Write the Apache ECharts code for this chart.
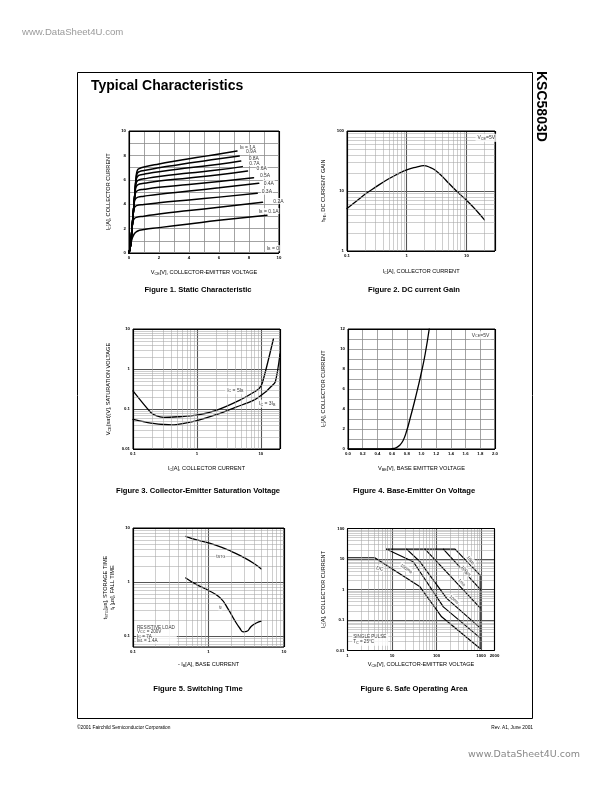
<!DOCTYPE html>
<html><head><meta charset="utf-8">
<script src="https://cdn.jsdelivr.net/npm/echarts@6/dist/echarts.min.js"></script>
<style>html,body{margin:0;padding:0;background:#fff;}#c{width:612px;height:792px;}</style>
</head><body><div id="c"></div>
<script>
// ---------------- DATA ----------------
// Figure 1: Static characteristic, [Vce(V), Ic(A)]
const f1Names = ['I{s|B} = 1A','0.9A','0.8A','0.7A','0.6A','0.5A','0.4A','0.3A','0.2A','I{s|B} = 0.1A'];
const f1_ib_1_0 = [[0,0],[0.1,0.6],[0.2,2.0],[0.3,3.5],[0.4,5.0],[0.48,6.3],[0.56,6.78],[0.7,6.93],[1,7.05],[2,7.3],[3,7.52],[4,7.72],[5,7.92],[6,8.12],[7.2,8.36]];
const f1_ib_0_9 = [[0,0],[0.1,0.6],[0.2,2.0],[0.3,3.5],[0.4,5.0],[0.47,6.1],[0.55,6.52],[0.7,6.67],[1,6.76],[2,6.98],[3,7.18],[4,7.37],[5,7.55],[6,7.72],[7.35,7.95]];
const f1_ib_0_8 = [[0,0],[0.1,0.6],[0.2,2.0],[0.3,3.5],[0.4,5.0],[0.46,5.9],[0.55,6.25],[0.7,6.38],[1,6.46],[2,6.66],[4,6.98],[6,7.28],[7.45,7.54]];
const f1_ib_0_7 = [[0,0],[0.1,0.6],[0.2,2.0],[0.3,3.5],[0.4,5.0],[0.45,5.62],[0.55,5.9],[0.7,6.0],[1,6.08],[2,6.27],[4,6.55],[6,6.82],[7.55,7.08]];
const f1_ib_0_6 = [[0,0],[0.1,0.6],[0.2,2.0],[0.3,3.5],[0.38,4.75],[0.45,5.33],[0.55,5.55],[0.7,5.65],[1,5.72],[2,5.9],[4,6.15],[6,6.42],[7.9,6.72]];
const f1_ib_0_5 = [[0,0],[0.1,0.6],[0.2,2.0],[0.3,3.5],[0.37,4.5],[0.45,4.97],[0.6,5.13],[1,5.22],[2,5.38],[4,5.62],[6,5.87],[8.3,6.17]];
const f1_ib_0_4 = [[0,0],[0.1,0.6],[0.2,2.0],[0.3,3.5],[0.35,4.1],[0.42,4.42],[0.6,4.58],[1,4.66],[2,4.82],[4,5.08],[6,5.35],[8.65,5.72]];
const f1_ib_0_3 = [[0,0],[0.1,0.6],[0.2,2.0],[0.27,3.1],[0.35,3.68],[0.5,3.88],[1,3.98],[2,4.12],[4,4.35],[6,4.58],[8.55,4.9]];
const f1_ib_0_2 = [[0,0],[0.1,0.6],[0.18,1.7],[0.25,2.45],[0.33,2.78],[0.5,2.92],[1,3.02],[2,3.2],[4,3.48],[6,3.75],[8.9,4.15]];
const f1_ib_0_1 = [[0,0],[0.1,0.6],[0.2,1.15],[0.3,1.45],[0.45,1.7],[0.7,1.86],[1,1.93],[2,2.08],[4,2.38],[6,2.68],[9.2,3.1]];
const f1Curves = [f1_ib_1_0,f1_ib_0_9,f1_ib_0_8,f1_ib_0_7,f1_ib_0_6,f1_ib_0_5,f1_ib_0_4,f1_ib_0_3,f1_ib_0_2,f1_ib_0_1];
const f1XLabels = [0,2,4,6,8,10];
const f1YLabels = [0,2,4,6,8,10];

// Figure 2: DC current gain
const f2Ic  = [0.1,0.15,0.2,0.3,0.5,0.7,1,1.5,1.9,2.5,3,4,5,7,10,15,20];
const f2Hfe = [5.1,7.0,8.8,11.6,16.0,19.1,22.5,25.2,26.4,24.6,22.2,17.2,13.6,9.7,7.0,4.6,3.3];
const f2XLabels = [0.1,1,10];
const f2YLabels = [1,10,100];
const f2MinorX = [0.2,0.3,0.4,0.5,0.6,0.7,0.8,0.9,2,3,4,5,6,7,8,9,20];
const f2MinorY = [2,3,4,5,6,7,8,9,20,30,40,50,60,70,80,90];

// Figure 3: Vce(sat)
const f3Ic5  = [0.1,0.19,0.23,0.3,0.5,1,2,4.7,8,9.5,10.6,15.8];
const f3Vce5 = [0.284,0.082,0.068,0.062,0.064,0.07,0.092,0.166,0.27,0.33,0.45,5.7];
const f3Ic3  = [0.1,0.15,0.22,0.3,0.41,0.6,1,2,4,7.8,12,14.4,16.9,20];
const f3Vce3 = [0.055,0.048,0.043,0.041,0.040,0.043,0.051,0.072,0.11,0.166,0.27,0.36,0.48,2.4];
const f3XLabels = [0.1,1,10];
const f3YLabels = [0.01,0.1,1,10];
const f3MinorX = [0.2,0.3,0.4,0.5,0.6,0.7,0.8,0.9,2,3,4,5,6,7,8,9];
const f3MinorY = [0.02,0.03,0.04,0.05,0.06,0.07,0.08,0.09,0.2,0.3,0.4,0.5,0.6,0.7,0.8,0.9,2,3,4,5,6,7,8,9];

// Figure 4: Base-emitter on voltage
const f4Vbe = [0,0.5,0.55,0.6,0.65,0.7,0.75,0.8,0.85,0.9,0.95,1.0,1.05,1.105];
const f4Ic  = [0,0,0.01,0.04,0.12,0.35,0.85,1.85,3.2,4.6,6.1,7.7,9.5,12];
const f4YLabels = [0,2,4,6,8,10,12];

// Figure 5: Switching time
const f5IbS  = [0.5,0.7,1,1.5,2,3,4,5];
const f5Tstg = [7.0,6.0,5.3,4.4,3.7,2.8,2.2,1.75];
const f5IbF  = [0.5,0.67,1,1.43,1.84,2.2,2.6,2.9,3.2,3.7,4.3,5];
const f5Tf   = [1.19,0.925,0.70,0.51,0.31,0.2,0.14,0.12,0.122,0.153,0.175,0.19];
const f5XLabels = [0.1,1,10];
const f5YLabels = [0.1,1,10];
const f5MinorX = [0.2,0.3,0.4,0.5,0.6,0.7,0.8,0.9,2,3,4,5,6,7,8,9];
const f5MinorY = [0.07,0.08,0.09,0.2,0.3,0.4,0.5,0.6,0.7,0.8,0.9,2,3,4,5,6,7,8,9];

// Figure 6: Safe operating area [Vce, Ic]
const f6DC    = [[1,11],[4.1,11],[42.5,1.22],[130,0.127],[950,0.0116]];
const f6_100ms = [[7.55,21],[30,8.1],[142,0.27],[950,0.026]];
const f6_10ms  = [[21.3,21],[42.5,8.1],[169,0.51],[950,0.055]];
const f6_1ms   = [[55,21],[120,6.3],[950,0.25]];
const f6_100us = [[142,21],[950,1.03]];
const f6_10us  = [[7.55,21],[260,21],[950,2.95],[950,0.0116]];
const f6XLabels = [1,10,100,1000,2000];
const f6YLabels = [0.01,0.1,1,10,100];
const f6MinorX = [2,3,4,5,6,7,8,9,20,30,40,50,60,70,80,90,200,300,400,500,600,700,800,900];
const f6MinorY = [0.02,0.03,0.04,0.05,0.06,0.07,0.08,0.09,0.2,0.3,0.4,0.5,0.6,0.7,0.8,0.9,2,3,4,5,6,7,8,9,20,30,40,50,60,70,80,90];

// ---------------- CHART ----------------
const FONT = '"Liberation Sans", Arial, sans-serif';
const SUB = { s: { fontSize: 3.7, verticalAlign: 'bottom', padding: [1.6, 0, 0, 0] } };
const zip = (a, b) => a.map((v, i) => [v, b[i]]);
const logFmt = list => v => { for (const l of list) { if (Math.abs(Math.log10(l) - Math.log10(v)) < 0.004) return String(l); } return ''; };
const linFmt = (list, dec) => v => { for (const l of list) { if (Math.abs(l - v) < 1e-6) return dec ? l.toFixed(dec) : String(l); } return ''; };

const grids = [
  { left: 129, top: 131, width: 150, height: 122 },
  { left: 347, top: 131, width: 148, height: 120 },
  { left: 133, top: 329, width: 147, height: 120 },
  { left: 348, top: 329, width: 147, height: 120 },
  { left: 133, top: 528, width: 151, height: 119 },
  { left: 347.5, top: 528.5, width: 147, height: 122 }
].map(g => Object.assign({ show: true, borderColor: '#000', borderWidth: 1, backgroundColor: '#fff' }, g));

function axis(idx, type, min, max, fmt, name, gap, extra) {
  const major = type === 'log' ? { color: '#555', width: 1.1 } : { color: '#8c8c8c', width: 0.8 };
  return Object.assign({
    gridIndex: idx, type, min, max,
    axisLine: { show: false }, axisTick: { show: false },
    splitLine: { show: true, lineStyle: major },
    axisLabel: { fontSize: 4.3, color: '#000', fontFamily: FONT, fontWeight: 'bold', margin: 3, formatter: fmt, showMinLabel: true, showMaxLabel: true, hideOverlap: false },
    name, nameLocation: 'middle', nameGap: gap,
    nameTextStyle: { fontSize: 5.6, color: '#000', fontFamily: FONT, rich: SUB, lineHeight: 7 }
  }, extra || {});
}

function gridSeries(i, xs, ys, xr, yr) {
  const minor = { color: '#a6a6a6', width: 0.55, type: 'solid' };
  const border = { color: '#000', width: 1.1, type: 'solid' };
  const data = [].concat(
    xs.map(v => ({ xAxis: v, lineStyle: minor })),
    ys.map(v => ({ yAxis: v, lineStyle: minor })),
    [{ xAxis: xr[0], lineStyle: border }, { xAxis: xr[1], lineStyle: border },
     { yAxis: yr[0], lineStyle: border }, { yAxis: yr[1], lineStyle: border }]
  );
  return { type: 'line', xAxisIndex: i, yAxisIndex: i, data: [[xr[0], yr[0]]], symbol: 'none', silent: true, clip: false, z: 1,
    lineStyle: { opacity: 0 },
    markLine: { silent: true, symbol: ['none', 'none'], label: { show: false }, animation: false, data } };
}

function curve(i, data, w, smooth) {
  return { type: 'line', xAxisIndex: i, yAxisIndex: i, data, showSymbol: false, symbol: 'none', silent: true, z: 3,
    smooth: smooth === undefined ? 0.35 : smooth,
    lineStyle: { color: '#000', width: w || 1.3, join: 'round', cap: 'round' } };
}

function labels(i, items) {
  return { type: 'scatter', xAxisIndex: i, yAxisIndex: i, symbolSize: 1, itemStyle: { color: 'transparent' }, z: 6, silent: true,
    data: items.map(it => ({ value: [it.x, it.y], name: it.t,
      label: Object.assign({ show: true, formatter: '{b}', position: 'right', distance: 0, fontSize: 5, fontFamily: FONT, color: '#000',
        backgroundColor: '#fff', padding: [0.5, 0.8, 0, 0.8], rich: SUB, lineHeight: 5.6, align: 'left' }, it.l || {}) })) };
}

const series = [];
// Fig 1
series.push(gridSeries(0, [], [], [0, 10], [0, 10]));
f1Curves.forEach(c => series.push(curve(0, c, 1.5, 0.5)));
series.push(labels(0, [
  { x: 7.3, y: 8.66, t: f1Names[0] }, { x: 7.71, y: 8.31, t: f1Names[1] }, { x: 7.89, y: 7.72, t: f1Names[2] },
  { x: 7.93, y: 7.38, t: f1Names[3] }, { x: 8.42, y: 6.91, t: f1Names[4] }, { x: 8.64, y: 6.34, t: f1Names[5] },
  { x: 8.89, y: 5.74, t: f1Names[6] }, { x: 8.76, y: 5.03, t: f1Names[7] }, { x: 9.53, y: 4.26, t: f1Names[8] },
  { x: 8.56, y: 3.44, t: f1Names[9] }, { x: 9.09, y: 0.4, t: 'I{s|B} = 0' }
]));
// Fig 2
series.push(gridSeries(1, f2MinorX, f2MinorY, [0.1, 30], [1, 100]));
series.push(curve(1, zip(f2Ic, f2Hfe), 1.3, 0.5));
series.push(labels(1, [{ x: 13.9, y: 77, t: 'V{s|CE}=5V', l: { padding: [1.5, 2, 1, 2] } }]));
// Fig 3
series.push(gridSeries(2, f3MinorX, f3MinorY, [0.1, 20], [0.01, 10]));
series.push(curve(2, zip(f3Ic5, f3Vce5), 1.3, 0.3));
series.push(curve(2, zip(f3Ic3, f3Vce3), 1.3, 0.3));
series.push(labels(2, [
  { x: 2.72, y: 0.295, t: 'I{s|C} = 5I{s|B}', l: { padding: [1.5, 2, 1, 2] } },
  { x: 8.6, y: 0.136, t: 'I{s|C} = 3I{s|B}', l: { padding: [1.5, 2, 1, 2] } }
]));
// Fig 4
series.push(gridSeries(3, [], [], [0, 2], [0, 12]));
series.push(curve(3, zip(f4Vbe, f4Ic), 1.3, 0.5));
series.push(labels(3, [{ x: 1.65, y: 11.37, t: 'V{s|CE}=5V', l: { padding: [1.5, 2, 1, 2] } }]));
// Fig 5
series.push(gridSeries(4, f5MinorX, f5MinorY, [0.1, 10], [0.063, 10]));
series.push(curve(4, zip(f5IbS, f5Tstg), 1.3, 0.5));
series.push(curve(4, zip(f5IbF, f5Tf), 1.3, 0.5));
series.push(labels(4, [
  { x: 1.22, y: 3.0, t: 't{s|STG}' },
  { x: 1.33, y: 0.34, t: 't{s|f}' },
  { x: 0.108, y: 0.108, t: 'RESISTIVE LOAD\nV{s|CC} = 200V\nI{s|C} = 7A\nI{s|B1} = 1.4A', l: { fontSize: 4.6, lineHeight: 4.4, padding: [1, 2, 1, 1] } }
]));
// Fig 6
series.push(gridSeries(5, f6MinorX, f6MinorY, [1, 2000], [0.01, 100]));
[f6DC, f6_100ms, f6_10ms, f6_1ms, f6_100us, f6_10us].forEach(c => series.push(curve(5, c, 1.2, false)));
series.push(labels(5, [
  { x: 5.3, y: 4.9, t: 'DC', l: { position: 'inside', rotate: -12, align: 'center' } },
  { x: 21, y: 4.9, t: '100ms', l: { position: 'inside', rotate: -35, align: 'center', fontSize: 4.5 } },
  { x: 247, y: 0.47, t: '10ms', l: { position: 'inside', rotate: -40, align: 'center', fontSize: 4.5 } },
  { x: 368, y: 1.7, t: '1ms', l: { position: 'inside', rotate: -45, align: 'center', fontSize: 4.5 } },
  { x: 460, y: 4.1, t: '100μs', l: { position: 'inside', rotate: -48, align: 'center', fontSize: 4.5 } },
  { x: 587, y: 9.2, t: '10μs', l: { position: 'inside', rotate: -50, align: 'center', fontSize: 4.5 } },
  { x: 1.24, y: 0.0227, t: 'SINGLE PULSE\nT{s|C} = 25°C', l: { fontSize: 4.6, lineHeight: 5, padding: [1, 2, 1, 1] } }
]));

const xAxis = [
  axis(0, 'value', 0, 10, linFmt(f1XLabels), 'V{s|CE}[V], COLLECTOR-EMITTER VOLTAGE', 15.5, { interval: 1 }),
  axis(1, 'log', 0.1, 30, logFmt(f2XLabels), 'I{s|C}[A], COLLECTOR CURRENT', 16.8),
  axis(2, 'log', 0.1, 20, logFmt(f3XLabels), 'I{s|C}[A], COLLECTOR CURRENT', 15.5),
  axis(3, 'value', 0, 2, v => Number(v).toFixed(1), 'V{s|BE}[V], BASE EMITTER VOLTAGE', 16.2, { interval: 0.2 }),
  axis(4, 'log', 0.1, 10, logFmt(f5XLabels), '- I{s|B}[A], BASE CURRENT', 13.5),
  axis(5, 'log', 1, 2000, logFmt(f6XLabels), 'V{s|CE}[V], COLLECTOR-EMITTER VOLTAGE', 10.8)
];
const yAxis = [
  axis(0, 'value', 0, 10, linFmt(f1YLabels), 'I{s|C}[A], COLLECTOR CURRENT', 16.7, { interval: 1 }),
  axis(1, 'log', 1, 100, logFmt(f2YLabels), 'h{s|FE}, DC CURRENT GAIN', 19.7),
  axis(2, 'log', 0.01, 10, logFmt(f3YLabels), 'V{s|CE}(sat)[V], SATURATION VOLTAGE', 20.7),
  axis(3, 'value', 0, 12, linFmt(f4YLabels), 'I{s|C}[A], COLLECTOR CURRENT', 20.7, { interval: 1 }),
  axis(4, 'log', 0.063, 10, logFmt(f5YLabels), 't{s|STG}[μs], STORAGE TIME\nt{s|f} [μs], FALL TIME', 16.7),
  axis(5, 'log', 0.01, 100, logFmt(f6YLabels), 'I{s|C}[A], COLLECTOR CURRENT', 20.8)
];

function txt(x, y, text, font, fill, align, extra) {
  return Object.assign({ type: 'text', x, y, silent: true,
    style: { text, font, fill: fill || '#000', align: align || 'left', textAlign: align || 'left', verticalAlign: 'middle', textVerticalAlign: 'middle' } }, extra || {});
}
const CAP = 'bold 7.6px "Liberation Sans", Arial, sans-serif';
const graphic = [
  { type: 'rect', silent: true, shape: { x: 77.5, y: 72.5, width: 455, height: 646 }, style: { fill: 'none', stroke: '#000', lineWidth: 1 } },
  txt(22, 32, 'www.DataSheet4U.com', '9.6px "Liberation Sans", Arial, sans-serif', '#9a9a9a'),
  txt(91, 86, 'Typical Characteristics', 'bold 14px "Liberation Sans", Arial, sans-serif'),
  txt(541, 71, 'KSC5803D', 'bold 14px "Liberation Sans", Arial, sans-serif', '#000', 'left', { rotation: -Math.PI / 2 }),
  txt(198, 290, 'Figure 1. Static Characteristic', CAP, '#000', 'center'),
  txt(414, 290, 'Figure 2. DC current Gain', CAP, '#000', 'center'),
  txt(198, 491, 'Figure 3. Collector-Emitter Saturation Voltage', CAP, '#000', 'center'),
  txt(414, 491, 'Figure 4. Base-Emitter On Voltage', CAP, '#000', 'center'),
  txt(198, 689, 'Figure 5. Switching Time', CAP, '#000', 'center'),
  txt(414, 689, 'Figure 6. Safe Operating Area', CAP, '#000', 'center'),
  txt(77, 728, '©2001 Fairchild Semiconductor Corporation', '4.8px "Liberation Sans", Arial, sans-serif'),
  txt(533, 728, 'Rev. A1, June 2001', '4.8px "Liberation Sans", Arial, sans-serif', '#000', 'right'),
  txt(580, 755, 'www.DataSheet4U.com', '9.5px "DejaVu Sans", sans-serif', '#888', 'right')
];

const chart = echarts.init(document.getElementById('c'), null, { renderer: 'canvas', width: 612, height: 792 });
chart.setOption({ animation: false, backgroundColor: '#fff', grid: grids, xAxis, yAxis, series, graphic });
</script></body></html>
